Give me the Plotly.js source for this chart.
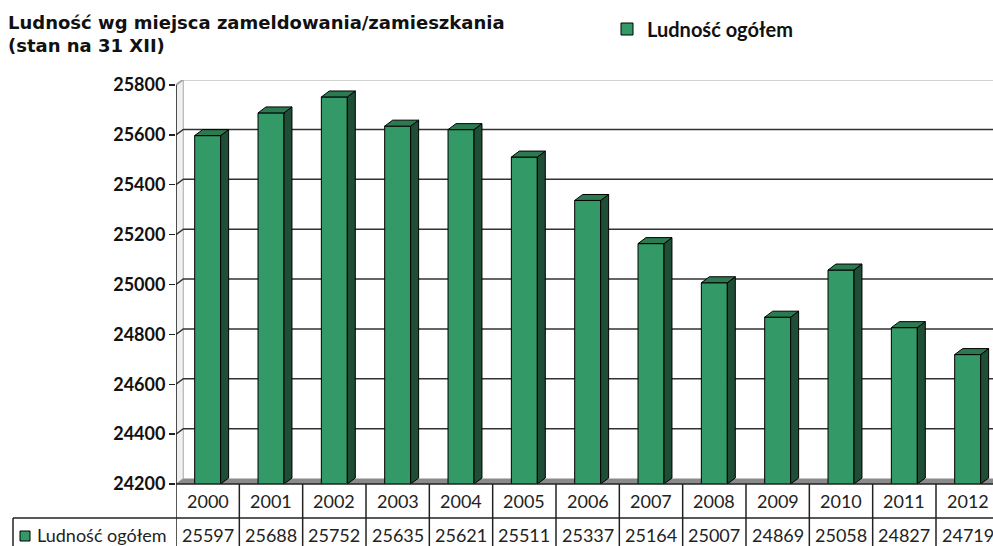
<!DOCTYPE html>
<html>
<head>
<meta charset="utf-8">
<script src="https://cdn.plot.ly/plotly-3.0.1.min.js"></script>
<style>html,body{margin:0;padding:0;background:#fff;}#chart{width:993px;height:546px;}</style>
</head>
<body>
<div id="chart"></div>
<script>
// ---- data ----
const years = ['2000','2001','2002','2003','2004','2005','2006','2007','2008','2009','2010','2011','2012'];
const population = [25597,25688,25752,25635,25621,25511,25337,25164,25007,24869,25058,24827,24719];
const yTicks = [24200,24400,24600,24800,25000,25200,25400,25600,25800];
const seriesName = 'Ludność ogółem';
const chartTitle = 'Ludność wg miejsca zameldowania/zamieszkania<br>(stan na 31 XII)';

// ---- styling / geometry constants ----
const W = 993, H = 546;
const mL = 176, mR = 0, mT = 80, mB = 62;
const plotW = W - mL - mR, plotH = H - mT - mB;
const yMin = 24200, yMax = 25820;
const xMin = -0.5, xMax = 12.4;
const hw = 0.205;          // half width of bar front face (category units)
const bdx = 0.126, bdy = 24; // bar depth offsets
const wdx = 0.115, wdy = 22; // wall depth offsets
const frontColor = '#339966', sideColor = '#1f4e36', topColor = '#2b7a50';
const xs = years.map((_, i) => i);

function px2paperX(px){ return (px - mL) / plotW; }
function px2paperY(py){ return (H - mB - py) / plotH; }

// faces built from data
const topX = [], topY = [], sideX = [], sideY = [];
population.forEach((v, i) => {
  topX.push(i-hw, i-hw+bdx, i+hw+bdx, i+hw, i-hw, null);
  topY.push(v, v+bdy, v+bdy, v, v, null);
  sideX.push(i+hw, i+hw+bdx, i+hw+bdx, i+hw, i+hw, null);
  sideY.push(v, v+bdy, yMin+bdy, yMin, v, null);
});

const traces = [
  {type:'bar', x: xs, y: population, width: 2*hw, name: seriesName,
   marker:{color: frontColor, line:{color:'#000', width:1}}, showlegend:true, hoverinfo:'skip'},
  {type:'scatter', mode:'lines', x: sideX, y: sideY, fill:'toself', fillcolor: sideColor,
   line:{color:'#000', width:1}, showlegend:false, hoverinfo:'skip'},
  {type:'scatter', mode:'lines', x: topX, y: topY, fill:'toself', fillcolor: topColor,
   line:{color:'#000', width:1}, showlegend:false, hoverinfo:'skip'}
];

const topTick = yTicks[yTicks.length-1];
const shapes = [];
// side wall
shapes.push({type:'path', xref:'x', yref:'y', layer:'below',
  path:`M ${xMin},${yMin} L ${xMin},${topTick} L ${xMin+wdx},${topTick+wdy} L ${xMin+wdx},${yMin+wdy} Z`,
  fillcolor:'#f0f0f0', line:{color:'#aaa', width:1}});
// floor
shapes.push({type:'path', xref:'x', yref:'y', layer:'below',
  path:`M ${xMin},${yMin} L ${xMin+wdx},${yMin+wdy} L 13,${yMin+wdy} L 13,${yMin} Z`,
  fillcolor:'#8a8a8a', line:{width:0}});
// gridlines on back wall
yTicks.forEach((t, k) => {
  if (k === 0) return;
  const last = k === yTicks.length-1;
  shapes.push({type:'path', xref:'x', yref:'y', layer:'below',
    path:`M ${xMin},${t} L ${xMin+wdx},${t+wdy} L 13,${t+wdy}`,
    line:{color: last ? '#a6a6a6' : '#333', width: last ? 2 : 1.5}});
});
// y axis line
shapes.push({type:'path', xref:'x', yref:'y', layer:'above',
  path:`M ${xMin},${yMin} L ${xMin},${topTick}`,
  line:{color:'#222', width:1.5}});
// table lines
shapes.push({type:'line', xref:'paper', yref:'paper', x0:0, x1:1.01, y0:0, y1:0, line:{color:'#222', width:1.5}});
for (let k = 0; k <= years.length; k++) {
  shapes.push({type:'line', xref:'x', yref:'paper', x0:k-0.5, x1:k-0.5, y0:0, y1:px2paperY(H+5), line:{color:'#222', width:1.5}});
}
shapes.push({type:'line', xref:'paper', yref:'paper', x0:px2paperX(13), x1:1.01, y0:px2paperY(518), y1:px2paperY(518), line:{color:'#222', width:1.5}});
shapes.push({type:'line', xref:'paper', yref:'paper', x0:px2paperX(13), x1:px2paperX(13), y0:px2paperY(518), y1:px2paperY(H+5), line:{color:'#222', width:1.5}});
// legend key in table
shapes.push({type:'rect', xref:'paper', yref:'paper', x0:px2paperX(20), x1:px2paperX(30), y0:px2paperY(531), y1:px2paperY(541),
  fillcolor: frontColor, line:{color:'#000', width:1}});

const tableFont = {family:'Lato, "Open Sans", sans-serif', size:18, color:'#222'};
const annotations = [];
years.forEach((yr, i) => {
  annotations.push({x:i, xref:'x', y:px2paperY(501), yref:'paper', text: yr, showarrow:false,
    xanchor:'center', yanchor:'middle', font: tableFont});
  annotations.push({x:i, xref:'x', y:px2paperY(535), yref:'paper', text: String(population[i]), showarrow:false,
    xanchor:'center', yanchor:'middle', font: tableFont});
});
annotations.push({x:px2paperX(35), xref:'paper', y:px2paperY(535), yref:'paper', text: seriesName, showarrow:false,
  xanchor:'left', yanchor:'middle', font: tableFont});

const layout = {
  width: W, height: H,
  margin:{l:mL, r:mR, t:mT, b:mB, pad:0},
  paper_bgcolor:'#fff', plot_bgcolor:'rgba(0,0,0,0)',
  title:{text: chartTitle, x: 8/W, xref:'container', xanchor:'left', y: 1-29/H, yref:'container', yanchor:'top',
    font:{family:'"DejaVu Sans", "Liberation Sans", sans-serif', size:18, color:'#111', weight:'bold'}},
  showlegend:true,
  legend:{xref:'container', yref:'container', x: 607/W, y: 1-29/H, xanchor:'left', yanchor:'middle',
    orientation:'h', bgcolor:'rgba(0,0,0,0)', itemwidth:30,
    font:{family:'Lato, "Open Sans", sans-serif', size:20, color:'#111', weight:'bold'}},
  xaxis:{type:'linear', range:[xMin, xMax], showgrid:false, zeroline:false, showticklabels:false, showline:false, ticks:'', fixedrange:true},
  yaxis:{range:[yMin, yMax], tickvals: yTicks, ticktext: yTicks.map(String), ticks:'outside', ticklen:6, tickwidth:1.5, tickcolor:'#222',
    showgrid:false, zeroline:false, showline:false, fixedrange:true,
    tickfont:{family:'Lato, "Open Sans", sans-serif', size:18, color:'#111', weight:'bold'}},
  shapes: shapes,
  annotations: annotations,
  hovermode:false
};

Plotly.newPlot('chart', traces, layout, {staticPlot:true, displayModeBar:false});
</script>
</body>
</html>
